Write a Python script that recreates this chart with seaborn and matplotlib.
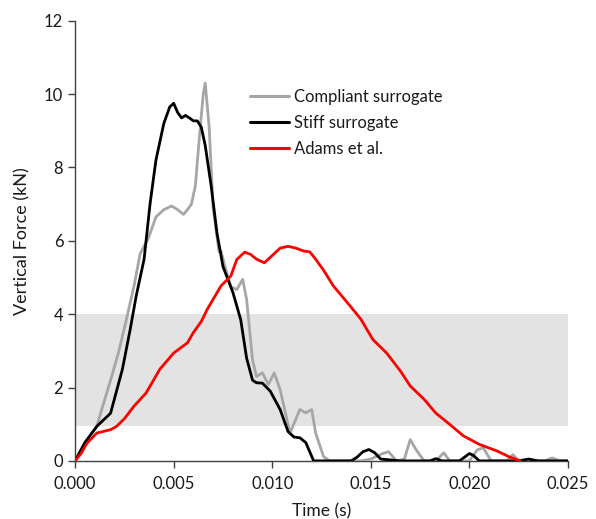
import numpy as np
import pandas as pd
import matplotlib
matplotlib.use("Agg")
import matplotlib.pyplot as plt
import seaborn as sns
from matplotlib.lines import Line2D

# ---- data ----
stiff_t = [0, 0.0005, 0.0011, 0.0018, 0.0024, 0.0028, 0.0031, 0.0035, 0.0038, 0.0041,
           0.0045, 0.0048, 0.0050, 0.0052, 0.0054, 0.0056, 0.0058, 0.0060, 0.0062, 0.0064,
           0.0066, 0.0069, 0.0072, 0.0075, 0.0080, 0.0084, 0.0087, 0.0090, 0.0092, 0.0095,
           0.0099, 0.0104, 0.0108, 0.0111, 0.0114, 0.0117, 0.0119, 0.0121, 0.0140, 0.0143,
           0.0146, 0.0149, 0.0152, 0.0155, 0.0165, 0.0180, 0.0183, 0.0186, 0.0195, 0.0198,
           0.0200, 0.0202, 0.0205, 0.0225, 0.0230, 0.0235, 0.0250]
stiff_y = [0, 0.5, 0.94, 1.3, 2.5, 3.6, 4.5, 5.5, 7.0, 8.2,
           9.2, 9.65, 9.75, 9.5, 9.35, 9.42, 9.35, 9.27, 9.27, 9.1,
           8.6, 7.5, 6.2, 5.3, 4.6, 3.85, 2.8, 2.2, 2.13, 2.12,
           1.9, 1.4, 0.8, 0.65, 0.63, 0.5, 0.25, 0.0, 0.0, 0.1,
           0.25, 0.31, 0.22, 0.05, 0.0, 0.0, 0.06, 0.0, 0.0, 0.12,
           0.2, 0.15, 0.0, 0.0, 0.05, 0.0, 0.0]

comp_t = [0, 0.0005, 0.0011, 0.00135, 0.0018, 0.0022, 0.0026, 0.0030, 0.0033, 0.0037,
          0.0041, 0.0045, 0.0049, 0.0052, 0.0055, 0.0057, 0.0059, 0.0061, 0.0063, 0.0065,
          0.0066, 0.0068, 0.0070, 0.0073, 0.0074, 0.0076, 0.0079, 0.0082, 0.0085, 0.0087,
          0.0090, 0.0092, 0.0095, 0.0098, 0.0101, 0.0104, 0.0109, 0.0114, 0.0117, 0.0120,
          0.0122, 0.0126, 0.0129, 0.0145, 0.0150, 0.0156, 0.0159, 0.0163, 0.0167, 0.0170,
          0.0173, 0.0177, 0.0183, 0.0187, 0.0190, 0.0200, 0.0204, 0.0207, 0.0211, 0.0219,
          0.0222, 0.0225, 0.0238, 0.0242, 0.0246, 0.0250]
comp_y = [0, 0.5, 0.94, 1.4, 2.2, 2.95, 3.85, 4.8, 5.65, 6.05,
          6.65, 6.85, 6.95, 6.85, 6.72, 6.85, 7.0, 7.5, 8.8, 10.0,
          10.3, 9.1, 6.9, 5.7, 5.72, 5.3, 4.75, 4.67, 4.95, 4.4,
          2.75, 2.3, 2.4, 2.08, 2.4, 1.94, 0.76, 1.4, 1.31, 1.4,
          0.76, 0.12, 0.0, 0.0, 0.05, 0.2, 0.25, 0.0, 0.05, 0.58,
          0.3, 0.0, 0.0, 0.22, 0.0, 0.0, 0.3, 0.36, 0.0, 0.0,
          0.17, 0.0, 0.0, 0.08, 0.0, 0.0]

adams_t = [0, 0.0003, 0.0006, 0.0011, 0.0018, 0.0021, 0.0025, 0.0030, 0.0036, 0.0043,
           0.0050, 0.0057, 0.0060, 0.0064, 0.0067, 0.0074, 0.0079, 0.0082, 0.0086, 0.0089,
           0.0092, 0.0096, 0.0100, 0.0104, 0.0108, 0.0112, 0.0116, 0.0119, 0.0122, 0.0126,
           0.0131, 0.0138, 0.0145, 0.0151, 0.0158, 0.0165, 0.0170, 0.0177, 0.0183, 0.0189,
           0.0197, 0.0205, 0.0214, 0.0221, 0.0226]
adams_y = [0, 0.2, 0.48, 0.76, 0.85, 0.94, 1.15, 1.5, 1.85, 2.5,
           2.94, 3.22, 3.5, 3.8, 4.13, 4.77, 5.04, 5.49, 5.69, 5.63,
           5.5, 5.4, 5.6, 5.8, 5.85, 5.8, 5.72, 5.7, 5.5, 5.2,
           4.77, 4.32, 3.86, 3.31, 2.94, 2.45, 2.04, 1.68, 1.3, 1.04,
           0.68, 0.45, 0.27, 0.09, 0.0]

series_names = ["Compliant surrogate", "Stiff surrogate", "Adams et al."]
band_low, band_high = 0.95, 4.0
x_ticks = [0.000, 0.005, 0.010, 0.015, 0.020, 0.025]
y_ticks = [0, 2, 4, 6, 8, 10, 12]

df = pd.concat([
    pd.DataFrame({"t": comp_t, "F": comp_y, "s": series_names[0]}),
    pd.DataFrame({"t": stiff_t, "F": stiff_y, "s": series_names[1]}),
    pd.DataFrame({"t": adams_t, "F": adams_y, "s": series_names[2]}),
], ignore_index=True)

sns.set_theme(style="white")
plt.rcParams["font.family"] = ["Lato", "DejaVu Sans"]

fig = plt.figure(figsize=(5.96, 5.19), dpi=100)
ax = fig.add_axes([0.126, 0.112, 0.827, 0.848])

ax.axhspan(band_low, band_high, xmin=0, xmax=1, color="#e3e3e3", lw=0, zorder=0)

palette = {series_names[0]: "#a6a6a6", series_names[1]: "#000000", series_names[2]: "#ff0000"}
sns.lineplot(data=df, x="t", y="F", hue="s", palette=palette, sort=False,
             estimator=None, linewidth=2.0, ax=ax, legend=False, zorder=3)

ax.set_xlim(0, 0.025)
ax.set_ylim(0, 12)
ax.set_xticks(x_ticks)
ax.set_xticklabels([f"{v:.3f}" for v in x_ticks])
ax.set_yticks(y_ticks)
ax.set_yticklabels([str(v) for v in y_ticks])
ax.tick_params(axis="both", direction="out", length=5, width=1, color="#404040",
               labelsize=12, labelcolor="#1a1a1a", bottom=True, left=True)
ax.tick_params(axis="x", pad=6)
for side in ["top", "right"]:
    ax.spines[side].set_visible(False)
for side in ["left", "bottom"]:
    ax.spines[side].set_color("#404040")
    ax.spines[side].set_linewidth(1)

ax.set_xlabel("Time (s)", fontsize=12.5, color="#1a1a1a", labelpad=8)
ax.set_ylabel("Vertical Force (kN)", fontsize=13, color="#1a1a1a", labelpad=10)

handles = [Line2D([], [], color=palette[n], lw=2.2) for n in series_names]
ax.legend(handles, series_names, loc="upper left", bbox_to_anchor=(0.325, 0.88),
          frameon=False, fontsize=12, handlelength=2.3, handletextpad=0.35,
          labelspacing=0.6, labelcolor="#1a1a1a")

fig.savefig("out.png", dpi=100)
